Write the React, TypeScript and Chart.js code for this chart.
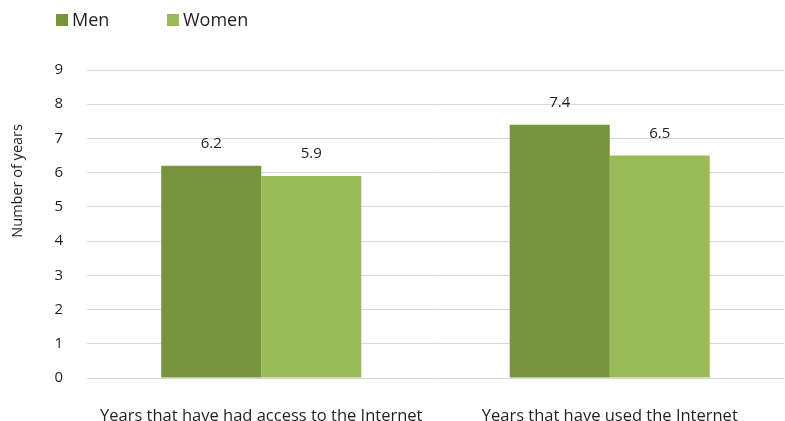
import React, { useEffect, useRef } from "react";
import { Chart, registerables } from "chart.js";

Chart.register(...registerables);

const categories = ["Years that have had access to the Internet", "Years that have used the Internet"];
const menValues = [6.2, 7.4];
const womenValues = [5.9, 6.5];
const seriesNames = ["Men", "Women"];
const seriesColors = ["#77933C", "#9BBB59"];
const yTicks = [0, 1, 2, 3, 4, 5, 6, 7, 8, 9];
const yTitle = "Number of years";

const FONT = "'Open Sans', sans-serif";
const TEXT = "#1f1f1f";

const valueLabels = {
  id: "valueLabels",
  afterDatasetsDraw(chart: any) {
    const ctx = chart.ctx;
    ctx.save();
    ctx.font = `15px ${FONT}`;
    ctx.fillStyle = TEXT;
    ctx.textAlign = "center";
    ctx.textBaseline = "middle";
    chart.data.datasets.forEach((ds: any, i: number) => {
      const meta = chart.getDatasetMeta(i);
      meta.data.forEach((el: any, j: number) => {
        ctx.fillText(String(ds.data[j]), el.x, el.y - 22);
      });
    });
    ctx.restore();
  },
};

const topLegendAndTitle = {
  id: "topLegendAndTitle",
  afterDraw(chart: any) {
    const ctx = chart.ctx;
    ctx.save();
    ctx.font = `18px ${FONT}`;
    ctx.textBaseline = "middle";
    ctx.textAlign = "left";
    let x = 56;
    const y = 20;
    chart.data.datasets.forEach((ds: any) => {
      ctx.fillStyle = ds.backgroundColor;
      ctx.fillRect(x, y - 6, 12, 12);
      ctx.fillStyle = TEXT;
      ctx.fillText(ds.label, x + 16, y + 1);
      x += 111;
    });
    // y-axis title
    const area = chart.chartArea;
    ctx.translate(18, area.top + (area.bottom - area.top) * 0.36);
    ctx.rotate(-Math.PI / 2);
    ctx.font = `14.5px ${FONT}`;
    ctx.textAlign = "center";
    ctx.fillStyle = TEXT;
    ctx.fillText(yTitle, 0, 0);
    ctx.restore();
  },
};

export default function App() {
  const ref = useRef<HTMLCanvasElement | null>(null);
  useEffect(() => {
    if (!ref.current) return;
    const chart = new Chart(ref.current, {
      type: "bar",
      data: {
        labels: categories,
        datasets: [
          { label: seriesNames[0], data: menValues, backgroundColor: seriesColors[0] },
          { label: seriesNames[1], data: womenValues, backgroundColor: seriesColors[1] },
        ],
      },
      options: {
        animation: false,
        responsive: true,
        maintainAspectRatio: false,
        layout: { padding: { top: 70, right: 1, left: 0, bottom: 0 } },
        datasets: { bar: { categoryPercentage: 0.574, barPercentage: 1.0, borderWidth: 0 } },
        plugins: {
          legend: { display: false },
          tooltip: { enabled: false },
        },
        scales: {
          x: {
            grid: { display: false },
            border: { display: false },
            ticks: { color: TEXT, font: { family: FONT, size: 16.5 }, padding: 20, maxRotation: 0 },
            afterFit: (s: any) => { s.height = 43; },
          },
          y: {
            min: 0,
            max: 9,
            afterBuildTicks: (s: any) => { s.ticks = yTicks.map((v) => ({ value: v })); },
            grid: { color: "#d9d9d9", drawTicks: false, lineWidth: 1 },
            border: { display: false },
            ticks: { color: TEXT, font: { family: FONT, size: 15 }, padding: 24 },
            title: { display: false, text: yTitle },
            afterFit: (s: any) => { s.width = 87; },
          },
        },
      },
      plugins: [valueLabels, topLegendAndTitle],
    });
    return () => chart.destroy();
  }, []);
  return (
    <div style={{ position: "absolute", left: 0, top: 0, width: 785, height: 421, background: "#fff" }}>
      <canvas ref={ref} />
    </div>
  );
}
